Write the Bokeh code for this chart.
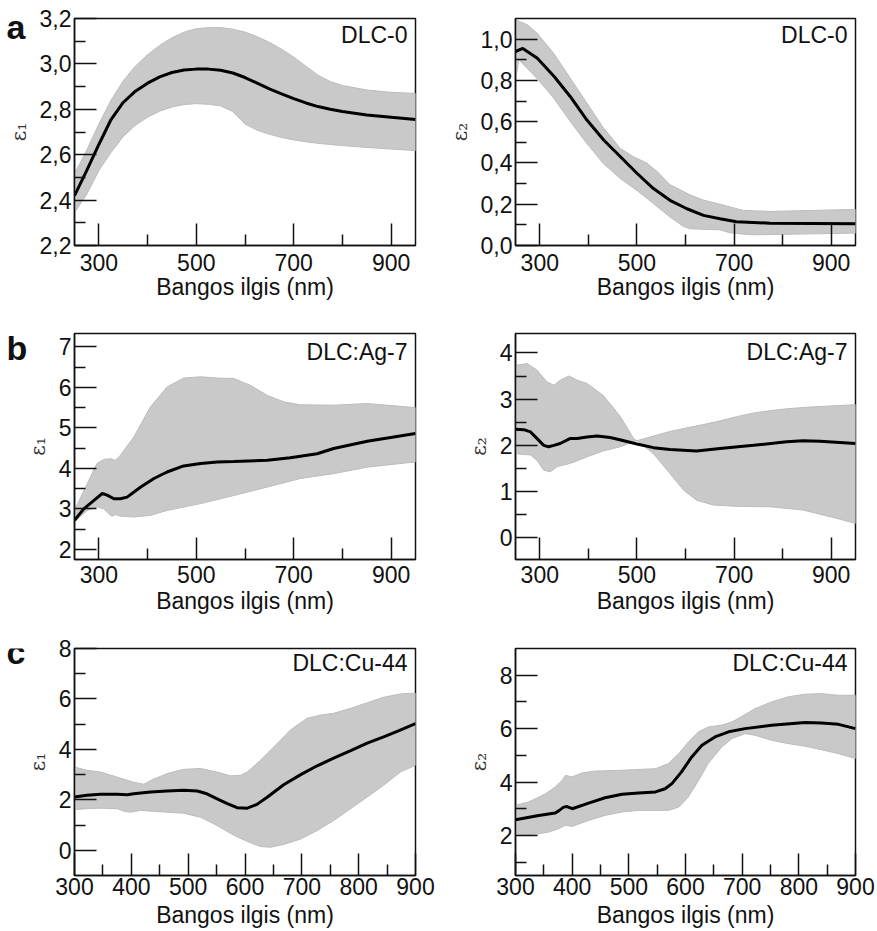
from bokeh.plotting import figure
from bokeh.layouts import column, row
from bokeh.models import FixedTicker, CustomJSTickFormatter, Label, Range1d
from bokeh.embed import file_html
from bokeh.resources import INLINE

# ---------------- data ----------------
XLABEL = "Bangos ilgis (nm)"
PANEL_LETTERS = ["a", "b", "c"]

# (a) DLC-0, epsilon1
a1_x = [250, 275, 300, 325, 350, 375, 400, 425, 450, 475, 500, 525, 550, 575, 600, 625, 650, 675, 700, 725, 750, 775, 800, 850, 900, 950]
a1_mean = [2.42, 2.53, 2.645, 2.755, 2.83, 2.88, 2.915, 2.943, 2.962, 2.973, 2.977, 2.977, 2.972, 2.96, 2.94, 2.915, 2.89, 2.868, 2.847, 2.828, 2.812, 2.8, 2.79, 2.775, 2.765, 2.755]
a1_up = [2.515, 2.62, 2.735, 2.84, 2.925, 2.99, 3.04, 3.082, 3.115, 3.14, 3.155, 3.16, 3.16, 3.153, 3.14, 3.12, 3.095, 3.065, 3.03, 2.99, 2.95, 2.922, 2.905, 2.885, 2.875, 2.87]
a1_lo = [2.345, 2.425, 2.53, 2.61, 2.68, 2.73, 2.765, 2.792, 2.81, 2.821, 2.825, 2.822, 2.815, 2.79, 2.735, 2.708, 2.69, 2.676, 2.665, 2.657, 2.65, 2.645, 2.64, 2.632, 2.625, 2.618]

# (a) DLC-0, epsilon2
a2_mx = [250, 265, 295, 330, 363, 397, 432, 466, 500, 534, 568, 603, 637, 671, 705, 774, 950]
a2_mean = [0.94, 0.955, 0.907, 0.818, 0.721, 0.608, 0.51, 0.43, 0.35, 0.276, 0.219, 0.178, 0.146, 0.13, 0.115, 0.108, 0.105]
a2_ux = [250, 274, 294, 329, 363, 397, 431, 466, 493, 520, 541, 568, 610, 637, 671, 719, 774, 950]
a2_up = [1.094, 1.07, 1.03, 0.93, 0.81, 0.69, 0.57, 0.47, 0.43, 0.40, 0.36, 0.295, 0.245, 0.22, 0.20, 0.17, 0.165, 0.175]
a2_lx = [250, 257, 294, 329, 363, 397, 431, 466, 500, 534, 568, 596, 610, 671, 691, 733, 774, 950]
a2_lo = [0.80, 0.90, 0.81, 0.713, 0.60, 0.494, 0.397, 0.324, 0.267, 0.203, 0.138, 0.092, 0.081, 0.076, 0.062, 0.052, 0.053, 0.06]

# (b) DLC:Ag-7, epsilon1
b1_mx = [250, 269, 290, 307, 317, 331, 344, 358, 386, 413, 440, 474, 509, 543, 577, 646, 693, 748, 782, 851, 950]
b1_mean = [2.72, 3.0, 3.21, 3.38, 3.34, 3.25, 3.25, 3.29, 3.54, 3.75, 3.91, 4.06, 4.12, 4.16, 4.17, 4.2, 4.26, 4.36, 4.49, 4.67, 4.86]
b1_ux = [250, 276, 296, 310, 324, 334, 344, 372, 406, 440, 474, 509, 543, 577, 611, 646, 680, 714, 782, 851, 950]
b1_up = [2.96, 3.62, 4.12, 4.22, 4.24, 4.2, 4.32, 4.78, 5.52, 6.01, 6.23, 6.26, 6.23, 6.22, 6.05, 5.8, 5.64, 5.57, 5.56, 5.6, 5.5]
b1_lx = [250, 276, 296, 310, 320, 327, 334, 344, 372, 406, 440, 509, 577, 646, 714, 782, 851, 950]
b1_lo = [2.68, 2.96, 3.05, 3.0, 2.88, 2.82, 2.86, 2.82, 2.8, 2.84, 2.96, 3.13, 3.33, 3.54, 3.75, 3.87, 4.03, 4.16]

# (b) DLC:Ag-7, epsilon2
b2_mx = [250, 267, 281, 294, 308, 318, 329, 342, 363, 377, 397, 418, 445, 473, 500, 534, 568, 623, 671, 740, 808, 842, 877, 950]
b2_mean = [2.35, 2.34, 2.29, 2.15, 2.0, 1.97, 2.0, 2.04, 2.15, 2.15, 2.18, 2.2, 2.17, 2.1, 2.03, 1.95, 1.91, 1.88, 1.93, 2.0, 2.08, 2.1, 2.09, 2.04]
b2_ux = [250, 274, 294, 315, 329, 342, 360, 377, 397, 431, 466, 493, 500, 534, 568, 603, 637, 671, 705, 740, 774, 808, 843, 877, 950]
b2_up = [3.73, 3.77, 3.63, 3.37, 3.3, 3.41, 3.5, 3.41, 3.34, 3.08, 2.62, 2.15, 2.1, 2.2, 2.3, 2.38, 2.45, 2.53, 2.62, 2.7, 2.75, 2.79, 2.82, 2.84, 2.88]
b2_lx = [250, 281, 294, 308, 322, 336, 363, 397, 431, 466, 493, 500, 534, 568, 596, 623, 657, 705, 774, 842, 911, 950]
b2_lo = [1.82, 1.79, 1.68, 1.46, 1.43, 1.54, 1.61, 1.75, 1.88, 1.97, 2.08, 2.1, 1.82, 1.39, 1.03, 0.81, 0.71, 0.68, 0.67, 0.6, 0.42, 0.31]

# (c) DLC:Cu-44, epsilon1
c1_mx = [300, 322, 346, 375, 393, 404, 434, 463, 492, 516, 533, 551, 569, 586, 604, 621, 639, 668, 698, 727, 756, 786, 815, 844, 872, 900]
c1_mean = [2.11, 2.18, 2.22, 2.22, 2.2, 2.24, 2.31, 2.35, 2.38, 2.35, 2.24, 2.04, 1.85, 1.69, 1.67, 1.82, 2.1, 2.6, 3.0, 3.35, 3.65, 3.95, 4.25, 4.5, 4.75, 5.02]
c1_ux = [300, 322, 346, 375, 404, 422, 434, 463, 492, 522, 551, 574, 592, 604, 627, 651, 680, 709, 733, 756, 786, 815, 844, 874, 900]
c1_up = [3.3, 3.17, 3.1, 2.9, 2.7, 2.62, 2.77, 3.04, 3.21, 3.24, 3.1, 2.95, 2.97, 3.1, 3.57, 4.1, 4.77, 5.23, 5.36, 5.43, 5.63, 5.85, 6.07, 6.2, 6.23]
c1_lx = [300, 322, 346, 375, 387, 398, 416, 463, 492, 522, 551, 580, 604, 627, 645, 668, 698, 727, 756, 786, 815, 844, 874, 900]
c1_lo = [1.61, 1.65, 1.67, 1.65, 1.55, 1.51, 1.58, 1.51, 1.47, 1.31, 0.98, 0.6, 0.35, 0.15, 0.12, 0.23, 0.45, 0.78, 1.18, 1.65, 2.11, 2.58, 3.11, 3.37]

# (c) DLC:Cu-44, epsilon2
c2_mx = [300, 341, 370, 376, 385, 391, 400, 429, 458, 488, 517, 547, 564, 576, 593, 611, 629, 652, 676, 705, 752, 811, 840, 870, 900]
c2_mean = [2.59, 2.75, 2.84, 2.92, 3.06, 3.08, 3.0, 3.21, 3.41, 3.54, 3.59, 3.63, 3.75, 3.94, 4.38, 4.94, 5.38, 5.69, 5.88, 6.0, 6.13, 6.23, 6.21, 6.16, 6.0]
c2_ux = [300, 323, 353, 370, 382, 388, 400, 417, 441, 488, 547, 570, 588, 605, 623, 640, 664, 682, 693, 723, 752, 781, 811, 840, 870, 900]
c2_up = [3.13, 3.25, 3.56, 3.81, 4.06, 4.25, 4.19, 4.34, 4.41, 4.44, 4.5, 4.69, 5.06, 5.5, 5.88, 6.06, 6.13, 6.25, 6.38, 6.75, 7.0, 7.19, 7.29, 7.31, 7.25, 7.25]
c2_lx = [300, 341, 359, 376, 388, 400, 429, 458, 488, 517, 570, 588, 605, 623, 640, 664, 682, 705, 723, 752, 781, 811, 840, 870, 900]
c2_lo = [2.0, 2.06, 2.13, 2.25, 2.38, 2.34, 2.56, 2.75, 2.88, 2.94, 2.94, 3.06, 3.44, 4.06, 4.69, 5.31, 5.63, 5.81, 5.75, 5.56, 5.44, 5.34, 5.21, 5.06, 4.88]

# ticks
x_ticks_ab = [300, 500, 700, 900]
x_minor_ab = [400, 600, 800]
x_ticks_c = [300, 400, 500, 600, 700, 800, 900]
x_minor_c = [350, 450, 550, 650, 750, 850]

a1_yt = [2.2, 2.4, 2.6, 2.8, 3.0, 3.2]
a1_ym = [2.3, 2.5, 2.7, 2.9, 3.1]
a2_yt = [0.0, 0.2, 0.4, 0.6, 0.8, 1.0]
a2_ym = [0.1, 0.3, 0.5, 0.7, 0.9]
b1_yt = [2, 3, 4, 5, 6, 7]
b1_ym = [2.5, 3.5, 4.5, 5.5, 6.5]
b2_yt = [0, 1, 2, 3, 4]
b2_ym = [0.5, 1.5, 2.5, 3.5]
c1_yt = [0, 2, 4, 6, 8]
c1_ym = [1, 3, 5, 7]
c2_yt = [2, 4, 6, 8]
c2_ym = [1, 3, 5, 7]

FONT = "Liberation Sans"
TXT = "#111111"
BAND = "#c9c9c9"
LETTER_W = 32


def panel(xr, yr, xt, xmt, yt, ymt, ylab, name, xm, ym, xu, yu, xl, yl,
          w, h, bl, br, bt, bb, decimals, tick_sof, lab_sof, name_dy, overlap=0):
    p = figure(width=w, height=h, x_range=Range1d(*xr), y_range=Range1d(*yr),
               output_backend="svg", toolbar_location=None,
               min_border_left=bl, min_border_right=br,
               min_border_top=bt, min_border_bottom=bb)
    if overlap:
        p.margin = (0, 0, 0, -overlap)
    p.border_fill_alpha = 0.0
    p.background_fill_color = "white"
    p.grid.visible = False
    p.outline_line_color = "#111111"
    p.outline_line_width = 1.5

    p.patch(xu + xl[::-1], yu + yl[::-1], fill_color=BAND, line_color="#bcbcbc", line_width=1)
    p.line(xm, ym, line_color="black", line_width=3)

    p.xaxis.ticker = FixedTicker(ticks=xt, minor_ticks=xmt)
    p.yaxis.ticker = FixedTicker(ticks=yt, minor_ticks=ymt)
    if decimals:
        p.yaxis.formatter = CustomJSTickFormatter(code="return tick.toFixed(1).replace('.', ',');")
    else:
        p.yaxis.formatter = CustomJSTickFormatter(code="return tick.toFixed(0);")
    p.xaxis.formatter = CustomJSTickFormatter(code="return tick.toFixed(0);")

    for ax in (p.xaxis[0], p.yaxis[0]):
        ax.major_tick_in = 22
        ax.major_tick_out = 0
        ax.minor_tick_in = 11
        ax.minor_tick_out = 0
        ax.major_tick_line_width = 1.5
        ax.minor_tick_line_width = 1.5
        ax.major_tick_line_color = "#111111"
        ax.minor_tick_line_color = "#111111"
        ax.axis_line_width = 1.5
        ax.axis_line_color = "#111111"
        ax.major_label_text_font = FONT
        ax.major_label_text_font_size = "23px"
        ax.major_label_text_color = TXT

    p.xaxis.axis_label = XLABEL
    p.xaxis.axis_label_text_font = FONT
    p.xaxis.axis_label_text_font_size = "23px"
    p.xaxis.axis_label_text_font_style = "normal"
    p.xaxis.axis_label_text_color = TXT
    p.xaxis.major_label_standoff = tick_sof
    p.xaxis.axis_label_standoff = lab_sof

    p.yaxis.axis_label = ylab
    p.yaxis.axis_label_text_font = "DejaVu Serif"
    p.yaxis.axis_label_text_font_size = "20px"
    p.yaxis.axis_label_text_font_style = "normal"
    p.yaxis.axis_label_text_color = "#333333"
    p.yaxis.major_label_standoff = 3
    p.yaxis.axis_label_standoff = 6

    p.add_layout(Label(x=xr[1], y=yr[1], x_offset=-8, y_offset=name_dy, text=name,
                       text_align="right", text_baseline="top",
                       text_font=FONT, text_font_size="23px", text_color=TXT))
    return p


def letter_fig(h, letter, dy):
    f = figure(width=LETTER_W, height=h, x_range=Range1d(0, 1), y_range=Range1d(0, 1),
               output_backend="svg", toolbar_location=None,
               x_axis_type=None, y_axis_type=None,
               min_border_left=0, min_border_right=0, min_border_top=0, min_border_bottom=0)
    f.outline_line_color = None
    f.grid.visible = False
    f.background_fill_alpha = 0.0
    f.border_fill_alpha = 0.0
    f.add_layout(Label(x=0, y=1, x_offset=6, y_offset=dy, text=letter,
                       text_align="left", text_baseline="alphabetic",
                       text_font=FONT, text_font_size="34px", text_font_style="bold",
                       text_color=TXT))
    return f


WL, WR = 438, 438
HA, HB, HC = 315, 315, 301

a1 = panel((250, 950), (2.2, 3.2), x_ticks_ab, x_minor_ab, a1_yt, a1_ym, "ε₁", "DLC-0",
           a1_x, a1_mean, a1_x, a1_up, a1_x, a1_lo,
           WL, HA, 74, 23, 18, 70, True, 8, 0, -3, LETTER_W)
a2 = panel((250, 950), (0.0, 1.1), x_ticks_ab, x_minor_ab, a2_yt, a2_ym, "ε₂", "DLC-0",
           a2_mx, a2_mean, a2_ux, a2_up, a2_lx, a2_lo,
           WR, HA, 77, 21, 18, 70, True, 8, 0, -3)
b1 = panel((250, 950), (1.75, 7.33), x_ticks_ab, x_minor_ab, b1_yt, b1_ym, "ε₁", "DLC:Ag-7",
           b1_mx, b1_mean, b1_ux, b1_up, b1_lx, b1_lo,
           WL, HB, 74, 23, 18, 71, False, 6, 2, -5, LETTER_W)
b2 = panel((250, 950), (-0.47, 4.42), x_ticks_ab, x_minor_ab, b2_yt, b2_ym, "ε₂", "DLC:Ag-7",
           b2_mx, b2_mean, b2_ux, b2_up, b2_lx, b2_lo,
           WR, HB, 77, 21, 18, 71, False, 6, 2, -5)
c1 = panel((300, 900), (-1, 8), x_ticks_c, x_minor_c, c1_yt, c1_ym, "ε₁", "DLC:Cu-44",
           c1_mx, c1_mean, c1_ux, c1_up, c1_lx, c1_lo,
           WL, HC, 74, 23, 18, 56, False, 2, 4, -1, LETTER_W)
c2 = panel((300, 900), (0.5, 9), x_ticks_c, x_minor_c, c2_yt, c2_ym, "ε₂", "DLC:Cu-44",
           c2_mx, c2_mean, c2_ux, c2_up, c2_lx, c2_lo,
           WR, HC, 77, 21, 18, 56, False, 2, 4, -1)

la = letter_fig(HA, PANEL_LETTERS[0], -8)
lb = letter_fig(HB, PANEL_LETTERS[1], -14)
lc = letter_fig(HC, PANEL_LETTERS[2], -3)

layout = column(row(la, a1, a2), row(lb, b1, b2), row(lc, c1, c2))

open("out.html", "w").write(file_html(layout, INLINE))
